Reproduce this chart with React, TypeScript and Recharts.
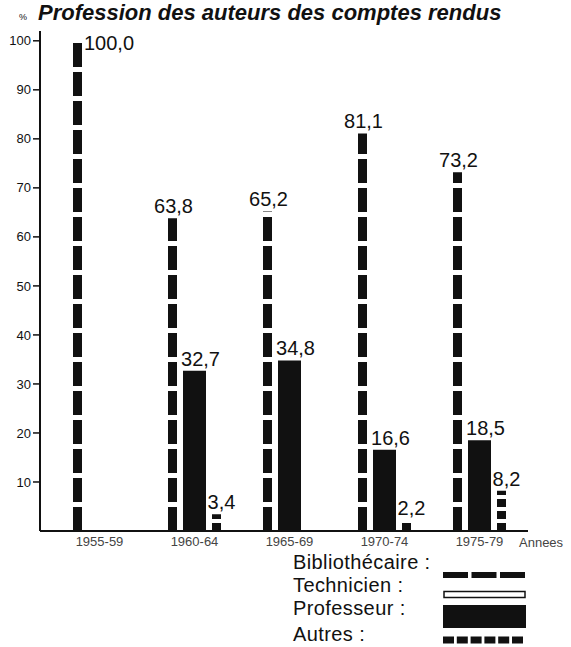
import React from 'react';
import { BarChart, Bar, XAxis, YAxis, LabelList } from 'recharts';

const periods = ['1955-59', '1960-64', '1965-69', '1970-74', '1975-79'];
const bibliothecaire = [100.0, 63.8, 65.2, 81.1, 73.2];
const professeur = [0, 32.7, 34.8, 16.6, 18.5];
const autres = [0, 3.4, 0, 2.2, 8.2];
const yTicks = [10, 20, 30, 40, 50, 60, 70, 80, 90, 100];
const legendLabels = ['Bibliothécaire :', 'Technicien :', 'Professeur :', 'Autres :'];

const INK = '#111';
const FONT = '"Liberation Sans", Arial, Helvetica, sans-serif';

const data = periods.map((p, i) => ({
  period: p,
  bibliothecaire: bibliothecaire[i],
  professeur: professeur[i],
  autres: autres[i],
}));

const fmt = (v: number) => v.toFixed(1).replace('.', ',');

// vertical dashed bar, dashes counted from the baseline up
const dashedShape = (dash: number, gap: number) => (props: any) => {
  const { x, y, width, height } = props;
  if (!height || height <= 0) return <g />;
  const cx = x + width / 2;
  return (
    <line
      x1={cx}
      x2={cx}
      y1={y + height}
      y2={y}
      stroke={INK}
      strokeWidth={width}
      strokeDasharray={`${dash} ${gap}`}
    />
  );
};

const valueLabel = (dx: number) => (props: any) => {
  const { x, y, width, value } = props;
  if (!value) return null;
  if (value >= 100) {
    return (
      <text x={x + width + 2} y={y + 9} fontSize={20} fill={INK} fontFamily={FONT}>
        {fmt(value)}
      </text>
    );
  }
  return (
    <text
      x={x + width / 2 + dx}
      y={y - 5}
      textAnchor="middle"
      fontSize={20}
      fill={INK}
      fontFamily={FONT}
    >
      {fmt(value)}
    </text>
  );
};

const Legend = () => (
  <svg width={290} height={100} style={{ position: 'absolute', left: 281, top: 547 }}>
    <g fontFamily={FONT} fontSize={20} fill={INK} letterSpacing={0.4}>
      <text x={12} y={22}>{legendLabels[0]}</text>
      <text x={12} y={45}>{legendLabels[1]}</text>
      <text x={12} y={68}>{legendLabels[2]}</text>
      <text x={12} y={94}>{legendLabels[3]}</text>
    </g>
    <line x1={162} x2={244} y1={28} y2={28} stroke={INK} strokeWidth={6} strokeDasharray="25 3.5" />
    <rect x={163} y={44.5} width={81} height={6} fill="#fff" stroke={INK} strokeWidth={1.5} />
    <rect x={162} y={58} width={83} height={23} fill={INK} />
    <line x1={162} x2={242} y1={93} y2={93} stroke={INK} strokeWidth={7} strokeDasharray="11 2.8" />
  </svg>
);

export default function App() {
  return (
    <div style={{ position: 'absolute', left: 0, top: 0, width: 571, height: 647, background: '#fff', fontFamily: FONT }}>
      <div
        style={{
          position: 'absolute',
          left: 38,
          top: 0,
          fontSize: 22,
          lineHeight: '25px',
          fontWeight: 'bold',
          fontStyle: 'italic',
          color: INK,
          whiteSpace: 'nowrap',
        }}
      >
        Profession des auteurs des comptes rendus
      </div>
      <div style={{ position: 'absolute', left: 19, top: 12, fontSize: 9, color: INK }}>%</div>
      <div style={{ position: 'absolute', left: 519, top: 535, fontSize: 13, color: '#444' }}>Annees</div>
      <div style={{ position: 'absolute', left: 0, top: 0 }}>
        <BarChart
          width={571}
          height={570}
          data={data}
          margin={{ top: 31, right: 43, bottom: 9, left: 0 }}
          barGap={6}
        >
          <XAxis
            dataKey="period"
            height={30}
            padding={{ left: 12, right: 1 }}
            axisLine={{ stroke: INK, strokeWidth: 2 }}
            tickLine={false}
            tickSize={4}
            tick={{ fill: '#444', fontSize: 13, fontFamily: FONT }}
          />
          <YAxis
            width={40}
            domain={[0, 102]}
            ticks={yTicks}
            interval={0}
            axisLine={{ stroke: INK, strokeWidth: 2 }}
            tickLine={{ stroke: INK, strokeWidth: 1.5 }}
            tickSize={7}
            tick={{ fill: INK, fontSize: 13, fontFamily: FONT }}
          />
          <Bar dataKey="bibliothecaire" barSize={9} shape={dashedShape(24, 5)} isAnimationActive={false}>
            <LabelList dataKey="bibliothecaire" content={valueLabel(1)} />
          </Bar>
          <Bar dataKey="professeur" barSize={23} fill={INK} isAnimationActive={false}>
            <LabelList dataKey="professeur" content={valueLabel(6)} />
          </Bar>
          <Bar dataKey="autres" barSize={9} shape={dashedShape(8, 4)} isAnimationActive={false}>
            <LabelList dataKey="autres" content={valueLabel(5)} />
          </Bar>
        </BarChart>
      </div>
      <Legend />
    </div>
  );
}
